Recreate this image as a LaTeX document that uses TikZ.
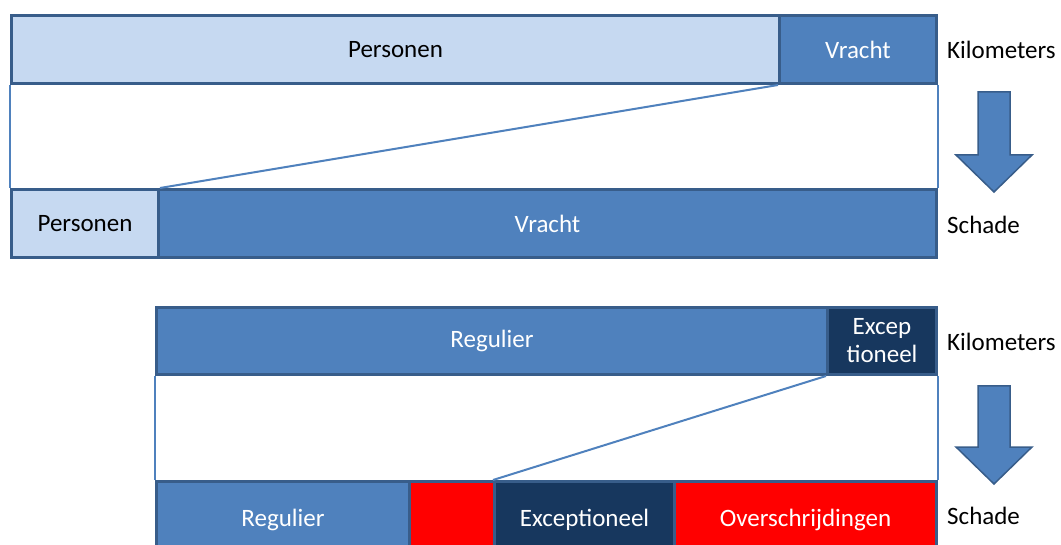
\documentclass[tikz,border=0pt]{standalone}
\usepackage{fontspec}
\setmainfont{Carlito}
\usepackage{xcolor}
\usetikzlibrary{calc}

\definecolor{lightblue}{HTML}{C6D9F1}
\definecolor{midblue}{HTML}{4F81BD}
\definecolor{navy}{HTML}{17375E}
\definecolor{rim}{HTML}{385D8A}

\tikzset{
	seg/.style = {draw = rim, line width = 3pt, anchor = north west, minimum height = 68pt, inner sep = 0pt, font = \fontsize{25}{28}\selectfont},
	link/.style = {draw = midblue, line width = 2pt},
	side/.style = {draw = midblue, line width = 1.5pt},
	label/.style = {anchor = west, inner sep = 0pt, font = \fontsize{25}{28}\selectfont}
}

\begin{document}
\begin{tikzpicture}[x=1pt, y=-1pt]
		\clip (0,0) rectangle (1061,545);
		\useasboundingbox (0,0) rectangle (1061,545);
		
		%kilometers, first split
		\node [seg, fill = lightblue, minimum width = 768pt] (pers1) at (10,14) {Personen};
		\node [seg, fill = midblue, text = white, minimum width = 157pt] (vr1) at (778,14) {Vracht};
		
		%schade, first split
		\node [seg, fill = lightblue, minimum width = 147pt] (pers2) at (10,188) {Personen};
		\node [seg, fill = midblue, text = white, minimum width = 778pt] (vr2) at (157,188) {Vracht};
		
		\draw [side] (pers1.south west) -- (pers2.north west);
		\draw [side] (vr1.south east) -- (vr2.north east);
		\draw [link] (vr1.south west) -- (pers2.north east);
		
		%kilometers, second split
		\node [seg, fill = midblue, text = white, minimum width = 671pt, minimum height = 67pt] (reg1) at (155,306) {Regulier};
		\node [seg, fill = navy, text = white, minimum width = 109pt, minimum height = 67pt, align = center] (exc1) at (826,306) {Excep\\tioneel};
		
		%schade, second split
		\node [seg, fill = midblue, text = white, minimum width = 253pt, minimum height = 76pt] (reg2) at (155,480) {Regulier};
		\node [seg, fill = red, minimum width = 85pt, minimum height = 76pt] (ovr2) at (408,480) {};
		\node [seg, fill = navy, text = white, minimum width = 180pt, minimum height = 76pt] (exc2) at (493,480) {Exceptioneel};
		\node [seg, fill = red, text = white, minimum width = 262pt, minimum height = 76pt] (over2) at (673,480) {Overschrijdingen};
		
		\draw [side] (reg1.south west) -- (reg2.north west);
		\draw [side] (exc1.south east) -- (over2.north east);
		\draw [link] (exc1.south west) -- (exc2.north west);
		
		%row labels
		\node [label] (km1) at (947,50) {Kilometers};
		\node [label] (sch1) at (947,225) {Schade};
		\node [label] (km2) at (947,342) {Kilometers};
		\node [label] (sch2) at (947,516) {Schade};
		
		%arrows
		\coordinate (a1) at (994,92);
		\coordinate (a2) at (994,386);
		\foreach \a/\l in {a1/63, a2/61} {
			\draw [fill = midblue, draw = rim, line width = 1.5pt, line join = miter]
				($ (\a) + (-16,0) $) -- ++(32,0) -- ++(0,\l) -- ++(22,0)
				-- ($ (\a) + (0,\l+37) $) -- ($ (\a) + (-38,\l) $) -- ++(22,0) -- cycle;
		}
	\end{tikzpicture}
\end{document}
